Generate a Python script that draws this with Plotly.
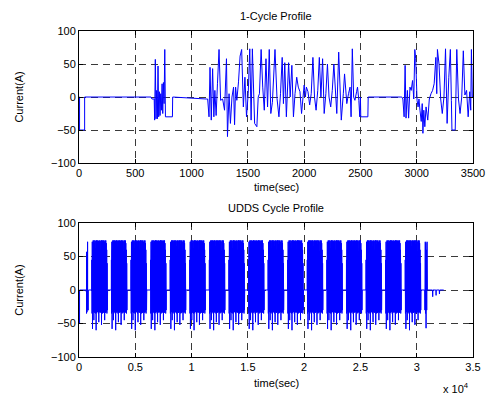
import plotly.graph_objects as go

# ---------- data ----------
# 1-cycle profile: lead-in (0..1130 s)
lead_t = [0, 5, 5, 50, 50, 640, 648, 668, 672, 678, 684, 690, 696, 702, 708, 714,
          720, 726, 732, 738, 744, 750, 756, 762, 768, 830, 832]
lead_i = [0, 0, -50, -50, 0, 0, -3, -3, -35, 57, -33, 10, -33, 47, -30, 8,
          -28, 5, -20, 20, -25, 22, -10, 72, -30, -30, 0]

# first driving cycle block (1130..2870 s)
cyc_t = [1130, 1143, 1155, 1164, 1175, 1187, 1198, 1207, 1218, 1230, 1244, 1258, 1276,
         1293, 1310, 1319, 1333, 1345, 1359, 1373, 1382, 1391, 1402, 1417, 1431, 1445,
         1460, 1474, 1488, 1503, 1517, 1529, 1540, 1560, 1580, 1592, 1603, 1618, 1632,
         1646, 1661, 1675, 1690, 1704, 1718, 1741, 1759, 1776, 1790, 1805, 1816, 1828,
         1842, 1862, 1876, 1891, 1905, 1919, 1934, 1948, 1963, 1977, 2000, 2011, 2020,
         2034, 2049, 2063, 2078, 2092, 2106, 2121, 2135, 2149, 2164, 2178, 2193, 2207,
         2221, 2236, 2250, 2264, 2290, 2307, 2330, 2348, 2359, 2379, 2394, 2408, 2417,
         2428, 2440, 2451, 2466, 2474, 2486, 2494, 2500, 2503, 2566, 2569, 2868]
cyc_i = [-3, -3, -30, 45, -35, 43, -30, 10, -28, 20, 72, -5, -3,
         -20, 58, -60, 5, -40, 0, 15, -42, 15, -5, 23, 62, 72,
         -15, 30, -30, 5, 73, -35, 73, -40, -45, 0, 5, 72, 15,
         -20, 58, -15, 72, -25, -8, 72, -2, -30, 5, 60, -10, 52,
         -30, 52, 0, 48, -30, 5, 30, 15, 8, -25, 18, 0, 15,
         8, -12, 5, 60, 0, -20, 10, 60, 0, 58, -25, 5, 50,
         0, -15, 10, 50, -25, 68, -35, 5, 35, -10, 5, 15, -30,
         73, 0, -5, 8, 15, -5, -30, 0, -30, -30, 0, 0]

# start of the second cycle shown at the end of the 1-cycle plot (2868..3500 s)
tail_t = [2877, 2888, 2897, 2905, 2917, 2928, 2940, 2951, 2963, 2974, 2983, 2991, 3003,
          3012, 3020, 3029, 3040, 3049, 3055, 3063, 3072, 3083, 3098, 3112, 3127, 3141,
          3155, 3170, 3178, 3184, 3198, 3213, 3227, 3242, 3256, 3270, 3285, 3299, 3308,
          3313, 3342, 3348, 3356, 3371, 3385, 3400, 3414, 3428, 3443, 3457, 3471, 3480,
          3486, 3494, 3500]
tail_i = [-3, -30, 48, -32, 10, -32, 15, 10, 25, -3, 72, 58, -5,
          -15, -3, -20, -37, -10, -55, -20, -45, -15, -35, -3, 5, 10,
          20, 60, 5, 72, 50, -3, -25, 0, 73, -40, 30, 72, -5,
          -50, -50, 0, 72, -3, -25, 0, 70, 3, 10, -30, 8, -20,
          72, 0, 0]

# UDDS profile, as seen at its scale: each burst's upper / lower swing (every 40 s)
burst_hi = [45, 72, 60, 74, 73, 74, 70, 74, 62, 73, 74, 74, 72, 74, 65, 73, 74, 72,
            74, 60, 73, 74, 74, 68, 74, 73, 74, 58, 72, 74, 73, 74, 70, 60, 40]
burst_lo = [-35, -58, -32, -33, -45, -34, -30, -33, -35, -60, -34, -32, -33, -31, -35,
            -48, -33, -32, -34, -33, -30, -52, -33, -35, -32, -34, -33, -33, -45, -32,
            -34, -33, -30, -35, -30]
burst_start = [1130, 2870, 4610, 6350, 8090, 9830, 11570, 13310, 15050, 16790,
               18530, 20270, 22010, 23750, 25490, 27230, 28970]
burst_step = 40
last_t = [30710, 30730, 30760, 30780, 30800, 30830, 30860, 30890, 30920, 30950]
last_i = [0, -30, 72, -35, 70, -57, 60, -30, 72, 0]
end_t = [31000, 31400, 31420, 31440, 31700, 31720, 31740, 32000, 32020, 32040, 32400]
end_i = [0, 0, -10, 0, 0, -8, 0, 0, -6, 0, 0]

# tick labels
y_ticks = [-100, -50, 0, 50, 100]
x1_ticks = [0, 500, 1000, 1500, 2000, 2500, 3000, 3500]
x2_ticks = [0, 5000, 10000, 15000, 20000, 25000, 30000, 35000]
x2_text = ["0", "0.5", "1", "1.5", "2", "2.5", "3", "3.5"]

# ---------- build series ----------
top_t = lead_t + cyc_t + tail_t
top_i = lead_i + cyc_i + tail_i

bot_t = list(lead_t)
bot_i = list(lead_i)
for s in burst_start:
    bot_t.append(s)
    bot_i.append(0)
    for j, (hi, lo) in enumerate(zip(burst_hi, burst_lo)):
        bot_t += [s + burst_step * j + 10, s + burst_step * j + 30]
        bot_i += [hi, lo]
    bot_t.append(s + burst_step * len(burst_hi) + 10)
    bot_i.append(0)
bot_t += last_t + end_t
bot_i += last_i + end_i

# ---------- figure ----------
fig = go.Figure()
line = dict(color="#0000FF", width=1, simplify=False)
fig.add_trace(go.Scatter(x=top_t, y=top_i, mode="lines", line=line, xaxis="x", yaxis="y"))
fig.add_trace(go.Scatter(x=bot_t, y=bot_i, mode="lines", line=line, xaxis="x2", yaxis="y2"))

font = dict(family="Liberation Sans, Arial, sans-serif", size=11, color="black")
ax_common = dict(showline=True, linecolor="black", linewidth=1, mirror="ticks",
                 ticks="inside", ticklen=4, tickcolor="black",
                 showgrid=True, gridcolor="#3a3a3a", griddash="7px,5px", gridwidth=1,
                 zeroline=False, tickfont=font)

fig.update_layout(
    width=494, height=394,
    margin=dict(l=79, r=9, t=31, b=37),
    paper_bgcolor="white", plot_bgcolor="white",
    showlegend=False, hovermode=False,
    font=font,
    xaxis=dict(domain=[0, 1], range=[0, 3500], tickvals=x1_ticks, anchor="y", **ax_common),
    yaxis=dict(domain=[0.595, 1], range=[-100, 100], tickvals=y_ticks, anchor="x", **ax_common),
    xaxis2=dict(domain=[0, 1], range=[0, 35000], tickvals=x2_ticks, ticktext=x2_text,
                anchor="y2", **ax_common),
    yaxis2=dict(domain=[0, 0.411], range=[-100, 100], tickvals=y_ticks, anchor="x2", **ax_common),
)

ann = [
    dict(text="1-Cycle Profile", x=0.5, y=1.046),
    dict(text="time(sec)", x=0.5, y=0.521),
    dict(text="UDDS Cycle Profile", x=0.5, y=0.457),
    dict(text="time(sec)", x=0.5, y=-0.080),
    dict(text="Current(A)", x=-0.153, y=0.798, textangle=-90),
    dict(text="Current(A)", x=-0.153, y=0.2055, textangle=-90),
    dict(text="x 10<sup>4</sup>", x=0.956, y=-0.095),
]
for a in ann:
    fig.add_annotation(xref="paper", yref="paper", showarrow=False,
                       xanchor="center", yanchor="middle", font=font, **a)

fig.write_html("out.html", config={"displayModeBar": False},
               post_script="document.body.style.margin='0';document.body.style.overflow='hidden';")
